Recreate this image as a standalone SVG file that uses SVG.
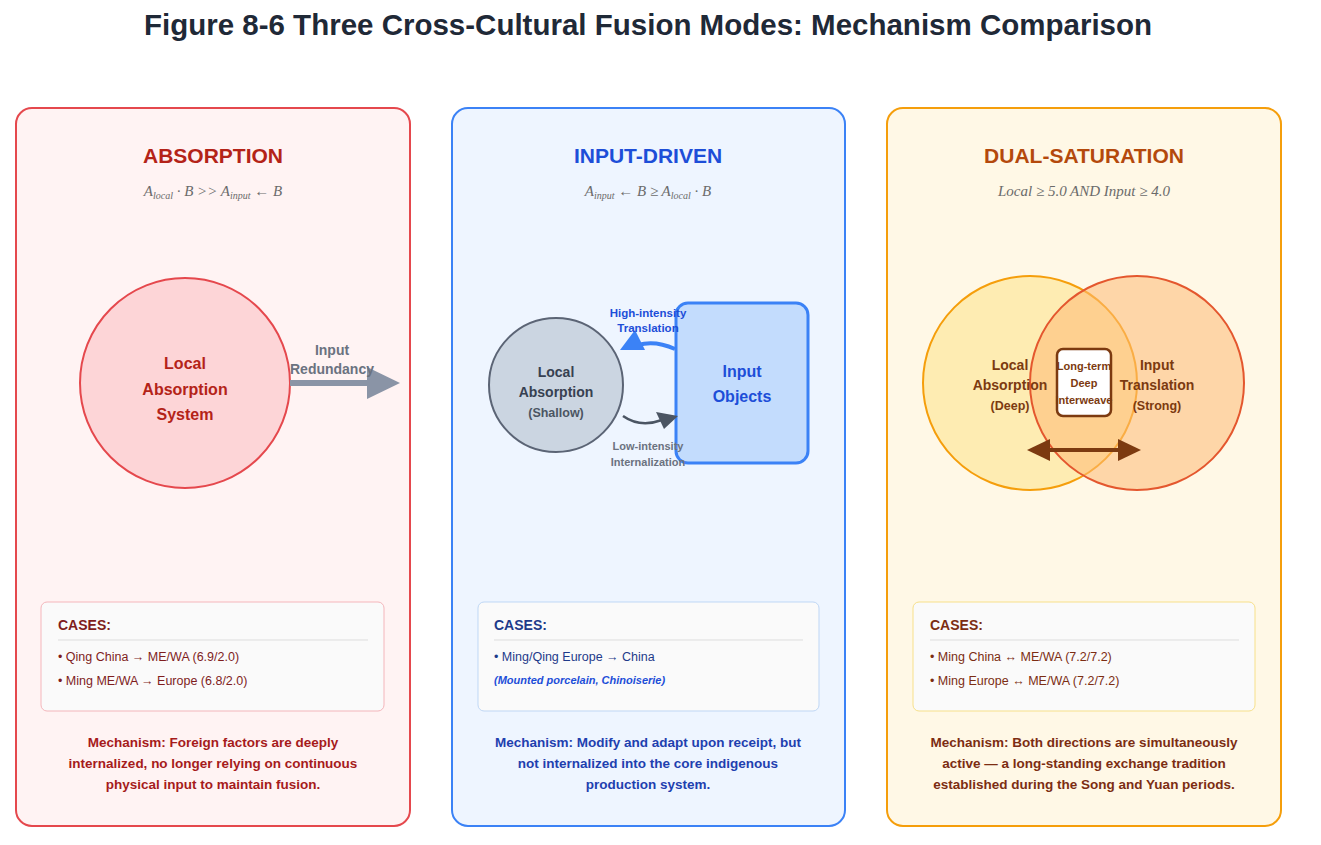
<svg xmlns="http://www.w3.org/2000/svg" width="1321" height="845" viewBox="0 0 1321 845">
<style>
text{font-family:"Liberation Sans",Arial,sans-serif;}
.t{font-weight:bold;text-anchor:middle;}
.f{font-family:"Liberation Serif","Times New Roman",serif;font-style:italic;font-size:15px;fill:#6b6b6b;text-anchor:middle;}
.cb{fill:#fafafa;stroke-width:1;}
.ch{font-size:14px;font-weight:bold;}
.ci{font-size:12.5px;}
.m{font-size:13.5px;font-weight:bold;text-anchor:middle;}
</style>
<rect width="1321" height="845" fill="#fff"/>
<text x="648" y="35" class="t" font-size="29.5" fill="#1f2937">Figure 8-6 Three Cross-Cultural Fusion Modes: Mechanism Comparison</text>

<g id="panel-absorption">
<rect x="16" y="108" width="394" height="718" rx="16" fill="#fff3f3" stroke="#e5484d" stroke-width="2"/>
<text x="213" y="163" class="t" font-size="21" fill="#b42318">ABSORPTION</text>
<text x="213" y="196" class="f">A<tspan font-size="10" dy="3">local</tspan><tspan dy="-3"> · B &gt;&gt; A</tspan><tspan font-size="10" dy="3">input</tspan><tspan dy="-3"> ← B</tspan></text>
</g>
<g id="node-local-absorption">
<circle cx="185" cy="383" r="105" fill="#fdd5d7" stroke="#e5484d" stroke-width="2"/>
<text x="185" y="369" class="t" font-size="16" fill="#b42318">Local</text>
<text x="185" y="395" class="t" font-size="16" fill="#b42318">Absorption</text>
<text x="185" y="420" class="t" font-size="16" fill="#b42318">System</text>
</g>
<g id="cases-absorption">
<rect x="41" y="602" width="343" height="109" rx="6" class="cb" stroke="#f4b6bb"/>
<text x="58" y="630" class="ch" fill="#7f1d1d">CASES:</text>
<line x1="58" y1="640" x2="368" y2="640" stroke="#ddd"/>
<text x="58" y="661" class="ci" fill="#7f1d1d">• Qing China → ME/WA (6.9/2.0)</text>
<text x="58" y="685" class="ci" fill="#7f1d1d">• Ming ME/WA → Europe (6.8/2.0)</text>
<text x="213" y="747" class="m" fill="#a61b1b">Mechanism: Foreign factors are deeply</text>
<text x="213" y="768" class="m" fill="#a61b1b">internalized, no longer relying on continuous</text>
<text x="213" y="789" class="m" fill="#a61b1b">physical input to maintain fusion.</text>
</g>

<g id="panel-input">
<rect x="452" y="108" width="393" height="718" rx="16" fill="#eef5ff" stroke="#3b82f6" stroke-width="2"/>
<text x="648" y="163" class="t" font-size="21" fill="#1d4ed8">INPUT-DRIVEN</text>
<text x="648" y="196" class="f">A<tspan font-size="10" dy="3">input</tspan><tspan dy="-3"> ← B ≥ A</tspan><tspan font-size="10" dy="3">local</tspan><tspan dy="-3"> · B</tspan></text>
</g>
<g id="node-local-shallow">
<circle cx="556" cy="385" r="67" fill="#cbd5e1" stroke="#5b6475" stroke-width="2"/>
<text x="556" y="377" class="t" font-size="14" fill="#374151">Local</text>
<text x="556" y="397" class="t" font-size="14" fill="#374151">Absorption</text>
<text x="556" y="417" class="t" font-size="12.5" fill="#4b5563">(Shallow)</text>
</g>
<g id="node-input-objects">
<rect x="676" y="303" width="132" height="160" rx="12" fill="#c3dcfd" stroke="#3b82f6" stroke-width="3"/>
<text x="742" y="377" class="t" font-size="16" fill="#1d4ed8">Input</text>
<text x="742" y="402" class="t" font-size="16" fill="#1d4ed8">Objects</text>
</g>
<g id="cases-input">
<rect x="478" y="602" width="341" height="109" rx="6" class="cb" stroke="#bfd7f5"/>
<text x="494" y="630" class="ch" fill="#1e3a8a">CASES:</text>
<line x1="494" y1="640" x2="803" y2="640" stroke="#ddd"/>
<text x="494" y="661" class="ci" fill="#1e3a8a">• Ming/Qing Europe → China</text>
<text x="494" y="684" font-size="11" font-weight="bold" font-style="italic" fill="#1d4ed8">(Mounted porcelain, Chinoiserie)</text>
<text x="648" y="747" class="m" fill="#1e40af">Mechanism: Modify and adapt upon receipt, but</text>
<text x="648" y="768" class="m" fill="#1e40af">not internalized into the core indigenous</text>
<text x="648" y="789" class="m" fill="#1e40af">production system.</text>
</g>

<g id="panel-dual">
<rect x="887" y="108" width="394" height="718" rx="16" fill="#fff8e6" stroke="#f59e0b" stroke-width="2"/>
<text x="1084" y="163" class="t" font-size="21" fill="#b4490c">DUAL-SATURATION</text>
<text x="1084" y="196" class="f">Local ≥ 5.0 AND Input ≥ 4.0</text>
</g>
<g id="node-local-deep">
<circle cx="1030" cy="383" r="107" fill="#fde58f" fill-opacity="0.6" stroke="#f59e0b" stroke-width="2"/>
</g>
<g id="node-input-strong">
<circle cx="1137" cy="383" r="107" fill="#fdba74" fill-opacity="0.55" stroke="#e4572e" stroke-width="2"/>
<text x="1010" y="370" class="t" font-size="14" fill="#7c3a10">Local</text>
<text x="1010" y="390" class="t" font-size="14" fill="#7c3a10">Absorption</text>
<text x="1010" y="410" class="t" font-size="12.5" fill="#7c3a10">(Deep)</text>
<text x="1157" y="370" class="t" font-size="14" fill="#7c3a10">Input</text>
<text x="1157" y="390" class="t" font-size="14" fill="#7c3a10">Translation</text>
<text x="1157" y="410" class="t" font-size="12.5" fill="#7c3a10">(Strong)</text>
</g>
<g id="node-interweave">
<rect x="1057" y="349" width="54" height="67" rx="6" fill="#fff" stroke="#7c3a10" stroke-width="2.5"/>
<text x="1084" y="370" class="t" font-size="11" fill="#7c3a10">Long-term</text>
<text x="1084" y="387" class="t" font-size="11" fill="#7c3a10">Deep</text>
<text x="1084" y="404" class="t" font-size="11" fill="#7c3a10">Interweave</text>
</g>
<g id="cases-dual">
<rect x="913" y="602" width="342" height="109" rx="6" class="cb" stroke="#f7e08a"/>
<text x="930" y="630" class="ch" fill="#7c2d12">CASES:</text>
<line x1="930" y1="640" x2="1239" y2="640" stroke="#ddd"/>
<text x="930" y="661" class="ci" fill="#7c2d12">• Ming China ↔ ME/WA (7.2/7.2)</text>
<text x="930" y="685" class="ci" fill="#7c2d12">• Ming Europe ↔ ME/WA (7.2/7.2)</text>
<text x="1084" y="747" class="m" fill="#7c2d12">Mechanism: Both directions are simultaneously</text>
<text x="1084" y="768" class="m" fill="#7c2d12">active — a long-standing exchange tradition</text>
<text x="1084" y="789" class="m" fill="#7c2d12">established during the Song and Yuan periods.</text>
</g>

<g id="connectors">
<line x1="290" y1="383" x2="370" y2="383" stroke="#8a94a6" stroke-width="6"/>
<polygon points="367,367 400,383 367,399" fill="#8a94a6"/>
<text x="332" y="355" class="t" font-size="14" fill="#6b7280">Input</text>
<text x="332" y="374" class="t" font-size="14" fill="#6b7280">Redundancy</text>

<path d="M675,349 Q655,340 638,345" fill="none" stroke="#3b82f6" stroke-width="4"/>
<polygon points="620,350 635,330 645,350" fill="#3b82f6"/>
<text x="648" y="317" class="t" font-size="11.5" fill="#1d4ed8">High-intensity</text>
<text x="648" y="332" class="t" font-size="11.5" fill="#1d4ed8">Translation</text>

<path d="M623,416 Q640,428 662,420" fill="none" stroke="#4b5563" stroke-width="2.5"/>
<polygon points="656,412 678,416 664,429" fill="#4b5563"/>
<text x="648" y="450" class="t" font-size="11" fill="#6b7280">Low-intensity</text>
<text x="648" y="466" class="t" font-size="11" fill="#6b7280">Internalization</text>

<line x1="1045" y1="450" x2="1124" y2="450" stroke="#7c3a10" stroke-width="4"/>
<polygon points="1027,450 1050,439 1050,461" fill="#7c3a10"/>
<polygon points="1141,450 1118,439 1118,461" fill="#7c3a10"/>
</g>
</svg>
